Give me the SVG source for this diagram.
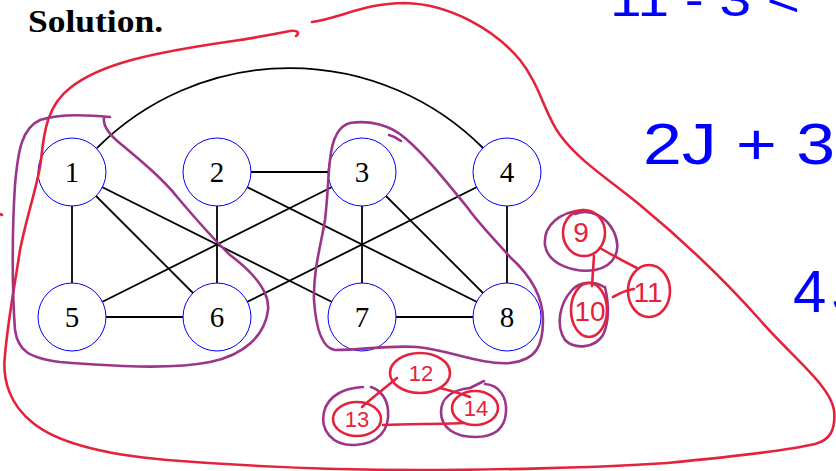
<svg xmlns="http://www.w3.org/2000/svg" width="836" height="471" viewBox="0 0 836 471">
<style>
.edge{stroke:#000;stroke-width:1.8;fill:none}
.node circle{fill:#fff;stroke:#0000ff;stroke-width:1}
.node text{font-family:"Liberation Serif","DejaVu Serif",serif;font-size:29px;text-anchor:middle;fill:#000}
.red{stroke:#e5223c;stroke-width:2.6;fill:none;stroke-linecap:round;stroke-linejoin:round}
.pur{stroke:#9b3589;stroke-width:2.6;fill:none;stroke-linecap:round;stroke-linejoin:round}
.hw{font-family:"Liberation Sans","DejaVu Sans",sans-serif;fill:#e5223c;text-anchor:middle}
.blue{font-family:"Liberation Sans","DejaVu Sans",sans-serif;fill:#0000ff}
</style>
<rect width="836" height="471" fill="#fff"/>
<text x="28" y="32" font-family="Liberation Serif, DejaVu Serif, serif" font-weight="bold" font-size="32" textLength="135" lengthAdjust="spacingAndGlyphs">Solution.</text>

<g id="connectors">
<path class="edge" d="M97,148 A273,273 0 0 1 483,148"/>
<line class="edge" x1="72" y1="172" x2="72" y2="317"/>
<line class="edge" x1="72" y1="172" x2="217" y2="317"/>
<line class="edge" x1="72" y1="172" x2="362" y2="317"/>
<line class="edge" x1="217" y1="172" x2="362" y2="172"/>
<line class="edge" x1="217" y1="172" x2="217" y2="317"/>
<line class="edge" x1="217" y1="172" x2="507" y2="317"/>
<line class="edge" x1="362" y1="172" x2="72" y2="317"/>
<line class="edge" x1="362" y1="172" x2="362" y2="317"/>
<line class="edge" x1="362" y1="172" x2="507" y2="317"/>
<line class="edge" x1="507" y1="172" x2="217" y2="317"/>
<line class="edge" x1="507" y1="172" x2="507" y2="317"/>
<line class="edge" x1="72" y1="317" x2="217" y2="317"/>
<line class="edge" x1="362" y1="317" x2="507" y2="317"/>
</g>

<g id="n1" class="node"><circle cx="72" cy="172" r="34"/><text x="72" y="182">1</text></g>
<g id="n2" class="node"><circle cx="217" cy="172" r="34"/><text x="217" y="182">2</text></g>
<g id="n3" class="node"><circle cx="362" cy="172" r="34"/><text x="362" y="182">3</text></g>
<g id="n4" class="node"><circle cx="507" cy="172" r="34"/><text x="507" y="182">4</text></g>
<g id="n5" class="node"><circle cx="72" cy="317" r="34"/><text x="72" y="327">5</text></g>
<g id="n6" class="node"><circle cx="217" cy="317" r="34"/><text x="217" y="327">6</text></g>
<g id="n7" class="node"><circle cx="362" cy="317" r="34"/><text x="362" y="327">7</text></g>
<g id="n8" class="node"><circle cx="507" cy="317" r="34"/><text x="507" y="327">8</text></g>

<!-- big red outline -->
<path class="red" d="M312,22 C340,18 365,3 405,3 C450,4 495,30 520,60 C540,85 545,115 560,135 C580,162 610,180 640,205 C680,238 720,275 760,320 C790,355 830,385 834,410 C836,430 830,440 815,444 C780,452 720,458 667,463 C600,468 480,470 420,470 C330,470 230,465 167,460 C110,455 60,445 33,423 C10,405 2,380 5,355 C8,320 14,290 20,250 C28,210 38,185 41,160 C44,130 48,105 70,88 C100,64 150,53 233,41 C260,37 280,33 290,31 C298,30 300,33 296,36"/>
<path class="red" d="M0,214 L2,215"/>

<!-- purple loops -->
<path class="pur" d="M110,117 C90,115 60,113 40,120 C22,128 18,150 15,185 C12,230 12,290 15,330 C18,350 28,358 60,362 C110,366 170,370 210,362 C245,355 265,335 268,310 C270,290 250,270 230,255 C212,238 195,218 178,198 C162,178 140,160 122,145 C108,134 103,125 104,118"/>
<path class="pur" d="M330,160 C332,140 338,126 350,123 C370,120 390,125 405,138 C425,155 445,180 467,207 C480,225 495,240 510,257 C530,275 543,295 543,320 C543,345 537,360 510,363 C480,365 450,350 417,347 C390,345 360,350 335,350 C322,348 316,330 314,300 C313,270 322,240 325,220 C328,195 328,175 330,160"/>
<path class="pur" d="M389,135 C393,136 397,138 401,141"/>

<!-- cluster 9 10 11 -->
<path class="pur" d="M583,210 C560,212 543,225 545,245 C548,265 575,273 595,270 C615,266 622,250 614,232 C606,216 590,208 575,214"/>
<path class="pur" d="M604,287 C595,281 580,281 572,290 C560,303 555,325 565,340 C575,350 595,348 603,335 C610,320 608,300 605,287"/>
<ellipse class="red" cx="584" cy="233" rx="21" ry="23"/>
<ellipse class="red" cx="589" cy="310" rx="18" ry="27"/>
<ellipse class="red" cx="649" cy="291" rx="21" ry="26"/>
<path class="red" d="M594,256 L592,286"/>
<path class="red" d="M600,248 C612,255 625,262 637,268"/>
<path class="red" d="M613,297 C620,293 627,290 634,289"/>
<text class="hw" x="581" y="242" font-size="28">9</text>
<text class="hw" x="590" y="321" font-size="28">10</text>
<text class="hw" x="648" y="302" font-size="28">11</text>

<!-- cluster 12 13 14 -->
<path class="pur" d="M363,387 C345,388 328,395 324,412 C320,430 332,446 355,445 C378,444 390,430 388,410 C387,398 380,390 371,387"/>
<path class="pur" d="M485,384 C500,385 507,398 506,412 C505,428 495,437 475,437 C455,437 441,428 441,412 C441,398 452,390 470,388 L484,381"/>
<ellipse class="red" cx="420" cy="373" rx="30" ry="20"/>
<ellipse class="red" cx="357" cy="419" rx="24" ry="17"/>
<ellipse class="red" cx="475" cy="408" rx="23" ry="17"/>
<path class="red" d="M397,378 C385,388 372,398 362,407"/>
<path class="red" d="M440,388 C452,391 462,394 470,397"/>
<path class="red" d="M383,425 C410,424 440,424 463,423"/>
<text class="hw" x="421" y="381" font-size="22">12</text>
<text class="hw" x="357" y="427" font-size="22">13</text>
<text class="hw" x="476" y="416" font-size="22">14</text>

<!-- blue handwriting -->
<text class="blue" x="610" y="16" font-size="48" textLength="190" lengthAdjust="spacingAndGlyphs">11 - 3 &lt;</text>
<text class="blue" x="643" y="164" font-size="58" textLength="192" lengthAdjust="spacingAndGlyphs">2J + 3</text>
<text class="blue" x="793" y="312" font-size="60">4<tspan dx="6">J</tspan></text>
</svg>
